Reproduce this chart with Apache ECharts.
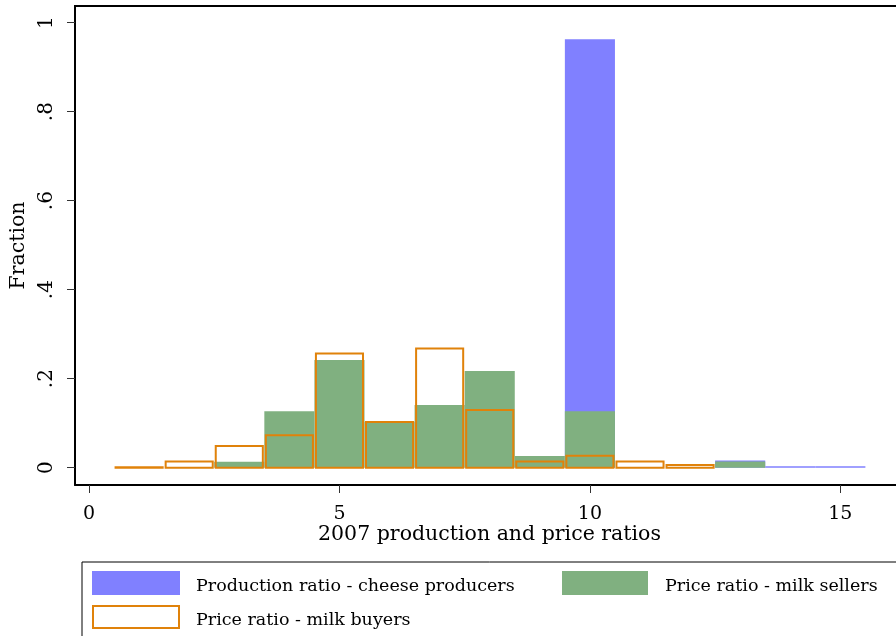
<!DOCTYPE html>
<html><head><meta charset="utf-8">
<script src="https://cdn.jsdelivr.net/npm/echarts@6/dist/echarts.min.js"></script>
<style>html,body{margin:0;padding:0;background:#fff;overflow:hidden}#c{width:896px;height:636px}</style>
</head><body><div id="c"></div>
<script>
// Histogram bins (bin centers, width 1)
const binCenters = [1,2,3,4,5,6,7,8,9,10,11,12,13,14,15];
const cheeseProducers = [0,0,0,0,0,0,0,0,0,0.963,0,0,0.016,0.003,0.003];
const milkSellers     = [0,0,0.013,0.127,0.242,0.103,0.141,0.217,0.026,0.127,0,0,0.014,0,0];
const milkBuyers      = [0.003,0.016,0.051,0.075,0.259,0.105,0.270,0.132,0.016,0.029,0.016,0.008,0,0,0];
const xTicks = [0,5,10,15];
const yTicks = [0,0.2,0.4,0.6,0.8,1];
const seriesNames = ['Production ratio - cheese producers','Price ratio - milk sellers','Price ratio - milk buyers'];
const xTitle = '2007 production and price ratios';
const yTitle = 'Fraction';

const FONT = 'DejaVu Serif';
const chart = echarts.init(document.getElementById('c'));

function toData(vals){ return binCenters.map((c,i)=>[c, vals[i]]).filter(d=>d[1]>0); }

function fillRender(color){
  return function(params, api){
    const c = api.value(0), v = api.value(1);
    const p0 = api.coord([c-0.5, v]);
    const p1 = api.coord([c+0.5, 0]);
    return {type:'rect', shape:{x:p0[0], y:p0[1], width:p1[0]-p0[0], height:p1[1]-p0[1]},
      style:{fill:color}};
  };
}
function outlineRender(color){
  return function(params, api){
    const c = api.value(0), v = api.value(1);
    const p0 = api.coord([c-0.5, v]);
    const p1 = api.coord([c+0.5, 0]);
    return {type:'rect', shape:{x:p0[0]+1.5, y:p0[1]+1, width:p1[0]-p0[0]-3, height:Math.max(p1[1]-p0[1]-1,0.5)},
      style:{fill:'none', stroke:color, lineWidth:2}};
  };
}

const BLUE='#8080FF', GREEN='#80B080', ORANGE='#E0820A';

chart.setOption({
  animation:false,
  grid:{left:75, top:6, right:-30, bottom:151, outerBoundsMode:'none', containLabel:false, show:false},
  xAxis:{type:'value', min:-0.28, max:16.71,
    axisLine:{show:true, onZero:false, lineStyle:{color:'#000', width:2}},
    axisTick:{show:true, length:8, customValues:xTicks, lineStyle:{color:'#333', width:1}},
    axisLabel:{customValues:xTicks, color:'#000', fontFamily:FONT, fontSize:19, margin:20},
    splitLine:{show:false}
  },
  yAxis:{type:'value', min:-0.039, max:1.0375,
    axisLine:{show:true, onZero:false, lineStyle:{color:'#000', width:2}},
    axisTick:{show:true, length:8, customValues:yTicks, lineStyle:{color:'#333', width:1}},
    axisLabel:{customValues:yTicks, rotate:90, color:'#000', fontFamily:FONT, fontSize:20, margin:18,
      formatter:v=> v===0?'0':(v===1?'1':String(+v.toFixed(1)).replace(/^0/,''))},
    splitLine:{show:false},
    name:yTitle, nameLocation:'middle', nameGap:39, nameRotate:90,
    nameTextStyle:{color:'#000', fontFamily:FONT, fontSize:20.5}
  },
  legend:{show:false},
  series:[
    {name:seriesNames[0], type:'custom', renderItem:fillRender(BLUE), data:toData(cheeseProducers), encode:{x:0,y:1}},
    {name:seriesNames[1], type:'custom', renderItem:fillRender(GREEN), data:toData(milkSellers), encode:{x:0,y:1}},
    {name:seriesNames[2], type:'custom', renderItem:outlineRender(ORANGE), data:toData(milkBuyers), encode:{x:0,y:1}}
  ],
  graphic:[
    {type:'line', shape:{x1:74, y1:6, x2:900, y2:6}, style:{stroke:'#000', lineWidth:2}},
    {type:'rect', z:100, shape:{x:886, y:8, width:12, height:474}, style:{fill:'#fff'}},
    {type:'text', x:489.5, y:535, style:{text:xTitle, font:'20.5px "'+FONT+'"', fill:'#000', align:'center', verticalAlign:'middle'}},
    {type:'rect', shape:{x:82, y:562, width:830, height:90}, style:{fill:'#fff', stroke:'#000', lineWidth:1}},
    {type:'rect', shape:{x:92, y:571, width:88, height:24}, style:{fill:BLUE}},
    {type:'text', x:196, y:586, style:{text:seriesNames[0], font:'17.5px "'+FONT+'"', fill:'#000', verticalAlign:'middle'}},
    {type:'rect', shape:{x:562, y:571, width:86, height:24}, style:{fill:GREEN}},
    {type:'text', x:665, y:586, style:{text:seriesNames[1], font:'17.5px "'+FONT+'"', fill:'#000', verticalAlign:'middle'}},
    {type:'rect', shape:{x:93, y:606, width:86, height:22}, style:{fill:'#fff', stroke:ORANGE, lineWidth:2}},
    {type:'text', x:196, y:620, style:{text:seriesNames[2], font:'17.5px "'+FONT+'"', fill:'#000', verticalAlign:'middle'}}
  ]
});
</script></body></html>
